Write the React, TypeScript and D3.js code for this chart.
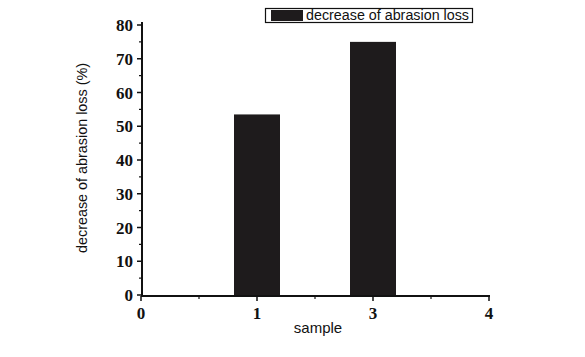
import React from "react";
import * as d3 from "d3";

const categories = ["0", "1", "3", "4"];
const barCategories = ["1", "3"];
const barValues = [53.5, 75];
const yTicks = [0, 10, 20, 30, 40, 50, 60, 70, 80];
const seriesName = "decrease of abrasion loss";
const xTitle = "sample";
const yTitle = "decrease of abrasion loss (%)";

export default function App() {
  const W = 585, H = 357;
  const x = d3.scalePoint<string>().domain(categories).range([141, 489]);
  const y = d3.scaleLinear().domain([0, 80]).range([295, 25]);
  const minorY = d3.range(5, 80, 10);
  const minorX = categories.slice(0, -1).map((c, i) => ((x(c) as number) + (x(categories[i + 1]) as number)) / 2);
  const barW = 46;
  const narrow = "'Liberation Sans Narrow', 'Liberation Sans', Arial, sans-serif";
  const serif = "'Liberation Serif', 'DejaVu Serif', 'Times New Roman', serif";
  return (
    <svg width={W} height={H} style={{ position: "absolute", left: 0, top: 0, background: "#fff" }}>
      <rect x={0} y={0} width={W} height={H} fill="#fff" />
      {barCategories.map((c, i) => (
        <rect key={c} x={(x(c) as number) - barW / 2} y={y(barValues[i])} width={barW}
          height={y(0) - y(barValues[i])} fill="#1e1b1c" />
      ))}
      <line x1={142} x2={142} y1={22} y2={296} stroke="#111" strokeWidth={2} />
      <line x1={141} x2={490} y1={296} y2={296} stroke="#111" strokeWidth={2} />
      {yTicks.map((t) => (
        <g key={t}>
          <line x1={137} x2={142} y1={y(t)} y2={y(t)} stroke="#111" strokeWidth={1.5} />
          <text x={133} y={y(t) + 6} textAnchor="end" fontFamily={serif} fontSize={17}
            fontWeight="bold" fill="#111">{t}</text>
        </g>
      ))}
      {minorY.map((t) => (
        <line key={t} x1={139} x2={142} y1={y(t)} y2={y(t)} stroke="#111" strokeWidth={1.2} />
      ))}
      {categories.map((c) => (
        <g key={c}>
          <line x1={x(c) as number} x2={x(c) as number} y1={296} y2={301} stroke="#111" strokeWidth={1.5} />
          <text x={x(c) as number} y={319} textAnchor="middle" fontFamily={serif} fontSize={17}
            fontWeight="bold" fill="#111">{c}</text>
        </g>
      ))}
      {minorX.map((m, i) => (
        <line key={i} x1={m} x2={m} y1={296} y2={299} stroke="#111" strokeWidth={1.2} />
      ))}
      <text x={318} y={333} textAnchor="middle" fontFamily={narrow} fontSize={15} fill="#111">{xTitle}</text>
      <text transform="translate(87,158) rotate(-90)" textAnchor="middle" fontFamily={narrow}
        fontSize={14} fill="#111" textLength={190} lengthAdjust="spacingAndGlyphs">{yTitle}</text>
      <rect x={265.5} y={8.5} width={207} height={14} fill="#fff" stroke="#111" strokeWidth={1.2} />
      <rect x={271} y={10} width={32} height={11} fill="#1e1b1c" />
      <text x={306} y={20} fontFamily={narrow} fontSize={14} fill="#111" textLength={163}
        lengthAdjust="spacingAndGlyphs">{seriesName}</text>
    </svg>
  );
}
